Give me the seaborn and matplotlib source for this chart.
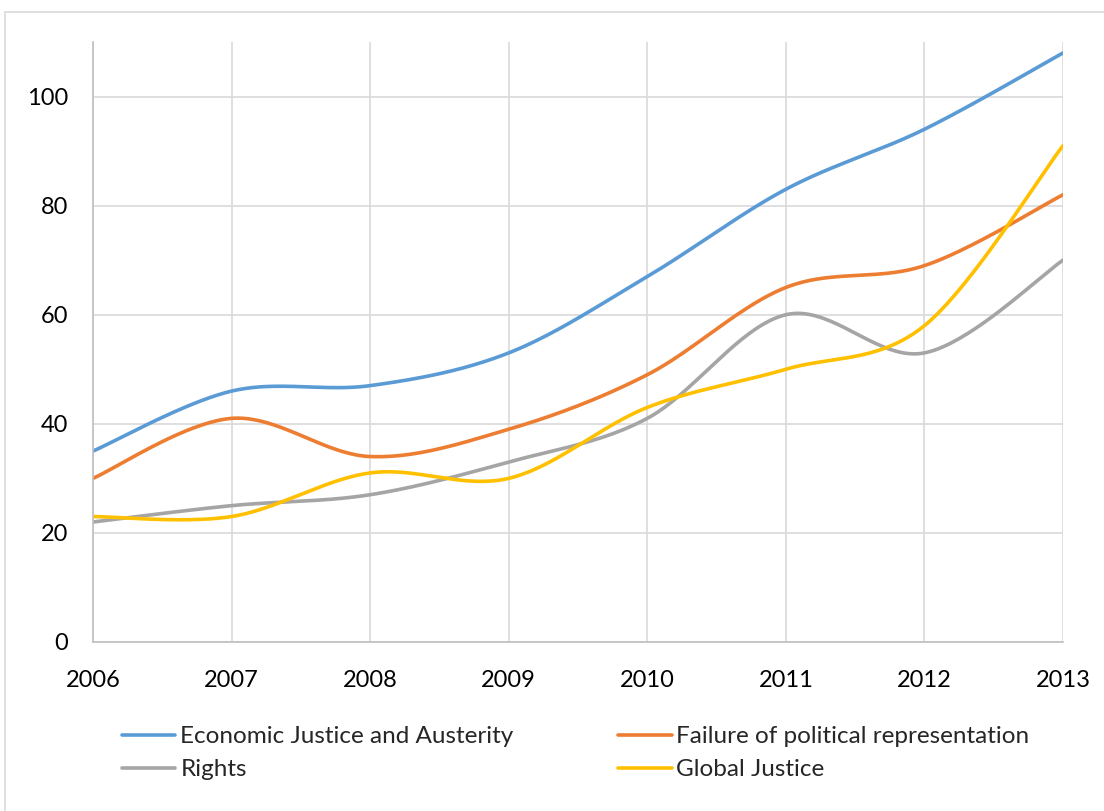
import numpy as np
import pandas as pd
import matplotlib
matplotlib.use("Agg")
import matplotlib.pyplot as plt
from matplotlib.patches import Rectangle
import seaborn as sns

years = [2006, 2007, 2008, 2009, 2010, 2011, 2012, 2013]
economic = [35, 46, 47, 53, 67, 83, 94, 108]
failure = [30, 41, 34, 39, 49, 65, 69, 82]
rights = [22, 25, 27, 33, 41, 60, 53, 70]
global_justice = [23, 23, 31, 30, 43, 50, 58, 91]

series_names = ["Economic Justice and Austerity", "Failure of political representation",
                "Rights", "Global Justice"]
series_values = [economic, failure, rights, global_justice]
colors = ["#5B9BD5", "#ED7D31", "#A5A5A5", "#FFC000"]
y_ticks = [0, 20, 40, 60, 80, 100]


def smooth(xs, ys, n=40):
    """Catmull-Rom style Bezier smoothing (as used by spreadsheet 'smoothed lines')."""
    P = np.column_stack([xs, ys]).astype(float)
    P = np.vstack([P[0], P, P[-1]])
    out = []
    for i in range(1, len(P) - 2):
        p0, p1, p2, p3 = P[i - 1], P[i], P[i + 1], P[i + 2]
        b1 = p1 + (p2 - p0) / 6.0
        b2 = p2 - (p3 - p1) / 6.0
        t = np.linspace(0, 1, n, endpoint=(i == len(P) - 3))[:, None]
        pts = ((1 - t) ** 3) * p1 + 3 * ((1 - t) ** 2) * t * b1 + 3 * (1 - t) * t ** 2 * b2 + t ** 3 * p2
        out.append(pts)
    out = np.vstack(out)
    return out[:, 0], out[:, 1]


rows = []
for name, vals in zip(series_names, series_values):
    sx, sy = smooth(years, vals)
    for k, (a, b) in enumerate(zip(sx, sy)):
        rows.append({"order": k, "year": a, "value": b, "series": name})
df = pd.DataFrame(rows)

sns.set_theme(style="white")
plt.rcParams["font.family"] = ["Lato", "DejaVu Sans"]

fig = plt.figure(figsize=(11.04, 8.11), dpi=100)
ax = fig.add_axes([93 / 1104, 1 - 642 / 811, (1063 - 93) / 1104, (642 - 42) / 811])

# outer chart border
fig.patches.append(Rectangle((5 / 1104, -0.05), 1.2, 1 - 12 / 811 + 0.05,
                             transform=fig.transFigure, fill=False,
                             edgecolor="#d9d9d9", linewidth=1.2, zorder=0))

sns.lineplot(data=df, x="year", y="value", hue="series", hue_order=series_names,
             palette=colors, sort=False, estimator=None, units="series",
             linewidth=2.6, ax=ax, legend=False)

ax.set_xlim(2006, 2013)
ax.set_ylim(0, 110)
ax.set_xticks(years)
ax.set_xticklabels([str(y) for y in years])
ax.set_yticks(y_ticks)
ax.set_yticklabels([str(v) for v in y_ticks])
ax.set_xlabel("")
ax.set_ylabel("")
ax.grid(True, color="#d9d9d9", linewidth=1.2)
ax.set_axisbelow(True)
for s in ["top", "right"]:
    ax.spines[s].set_visible(False)
ax.spines["left"].set_color("#bfbfbf")
ax.spines["bottom"].set_color("#bfbfbf")
ax.spines["left"].set_linewidth(1.2)
ax.spines["bottom"].set_linewidth(1.2)
ax.tick_params(axis="both", length=0, labelsize=17, colors="black")
ax.tick_params(axis="y", pad=18)
ax.tick_params(axis="x", pad=20)

# row-wise legend order (matplotlib fills columns first)
order = [0, 2, 1, 3]
handles = [plt.Line2D([], [], color=colors[i], linewidth=2.6) for i in order]
labels = [series_names[i] for i in order]
fig.legend(handles, labels, loc="upper left", ncol=2,
           bbox_to_anchor=(122 / 1104, 1 - 726 / 811), frameon=False,
           fontsize=17.5, handlelength=2.2, handletextpad=0.2,
           columnspacing=4.3, labelspacing=0.5, borderpad=0, borderaxespad=0)

fig.savefig("out.png", dpi=100)
